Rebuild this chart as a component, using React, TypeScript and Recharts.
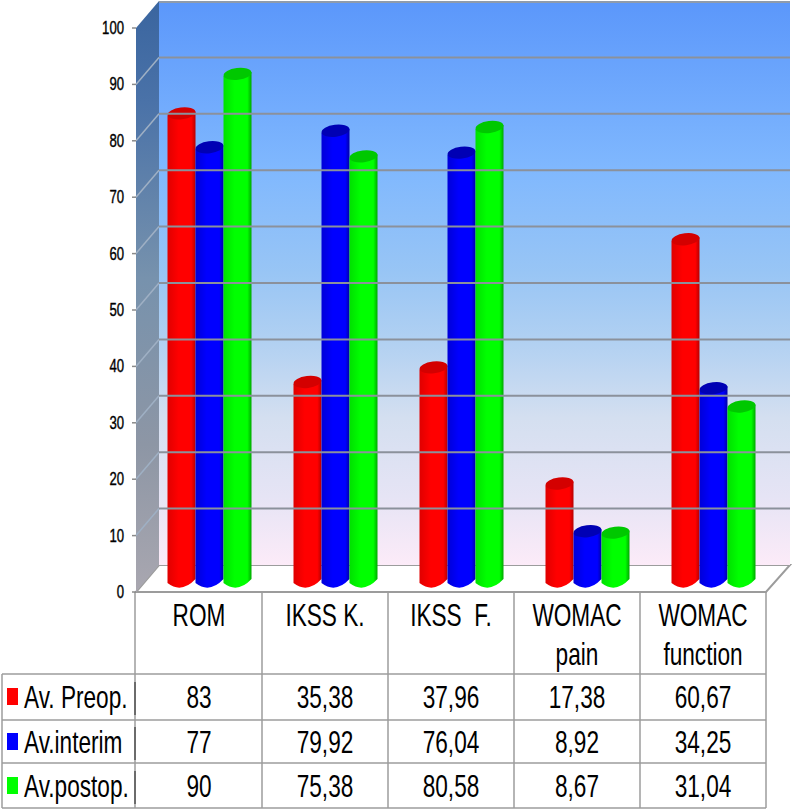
import React from "react";
import { BarChart, Bar, XAxis, YAxis, ReferenceArea, ReferenceLine } from "recharts";

const categories = ["ROM", "IKSS K.", "IKSS  F.", "WOMAC\npain", "WOMAC\nfunction"];
const preop = [83, 35.38, 37.96, 17.38, 60.67];
const interim = [77, 79.92, 76.04, 8.92, 34.25];
const postop = [90, 75.38, 80.58, 8.67, 31.04];
const seriesNames = ["Av. Preop.", "Av.interim", "Av.postop."];
const yTicks = [0, 10, 20, 30, 40, 50, 60, 70, 80, 90, 100];

const data = categories.map((name, i) => ({
  name,
  preop: preop[i],
  interim: interim[i],
  postop: postop[i],
}));

const rows = [preop, interim, postop];
const rowColors = ["#ff0000", "#0000ff", "#00ff00"];
const rowBaselines = [708, 753, 797];
const rowLines = [674, 720, 763, 808];

const DEPTH_X = 23;
const DEPTH_Y = 27;
const TEXT = "'Liberation Sans', Arial, sans-serif";
const LINE = "#9c9c9c";

function fmt(v: number) {
  return String(v).replace(".", ",");
}

// the picture's type is a narrowed Arial
function Narrow({ x, y, size = 31, anchor = "middle", heavy = 0, children }: any) {
  return (
    <text
      transform={`translate(${x},${y}) scale(0.73,1)`}
      fontFamily={TEXT}
      fontSize={size}
      textAnchor={anchor}
      fill="#000"
      stroke={heavy ? "#000" : "none"}
      strokeWidth={heavy}
    >
      {children}
    </text>
  );
}

function Wall({ x, y, width, height }: any) {
  const bottom = y + height;
  const right = x + width;
  return (
    <g>
      <polygon
        points={`${x},${bottom} ${x + DEPTH_X},${bottom - DEPTH_Y} ${right + DEPTH_X + 1},${bottom - DEPTH_Y} ${right},${bottom}`}
        fill="#fff"
        stroke={LINE}
        strokeWidth={2}
      />
      <polygon
        points={`${x},${y} ${x + DEPTH_X},${y - DEPTH_Y} ${x + DEPTH_X},${bottom - DEPTH_Y} ${x},${bottom}`}
        fill="url(#sideWall)"
      />
      <rect
        x={x + DEPTH_X}
        y={y - DEPTH_Y}
        width={width + 1}
        height={height}
        fill="url(#backWall)"
      />
      <line
        x1={x + DEPTH_X}
        y1={y - DEPTH_Y + 1}
        x2={right + DEPTH_X + 1}
        y2={y - DEPTH_Y + 1}
        stroke="#8f9bab"
        strokeWidth={2}
      />
    </g>
  );
}

function GridLine({ x1, y1, x2, y2 }: any) {
  return (
    <g fill="none">
      <line x1={x1} y1={y1} x2={x1 + DEPTH_X} y2={y1 - DEPTH_Y} stroke="#9fb0c4" strokeWidth={1.5} />
      <line
        x1={x1 + DEPTH_X}
        y1={y2 - DEPTH_Y}
        x2={x2 + DEPTH_X + 1}
        y2={y2 - DEPTH_Y}
        stroke="#8b919b"
        strokeWidth={2}
      />
    </g>
  );
}

function Cylinder({ x, y, width, height, gradient, top }: any) {
  const left = x + 11;
  const w = width;
  const yTop = y - 10.5;
  const yBottom = y + height - 11;
  const ry = 6;
  const tilt = 2;
  return (
    <g>
      <path
        d={`M${left},${yTop + tilt} L${left},${yBottom + tilt}
            Q${left + w * 0.5},${yBottom + ry * 2 + 1} ${left + w},${yBottom - tilt}
            L${left + w},${yTop - tilt} Z`}
        fill={`url(#${gradient})`}
      />
      <ellipse
        cx={left + w / 2}
        cy={yTop}
        rx={w / 2}
        ry={ry}
        fill={top}
        transform={`rotate(-7 ${left + w / 2} ${yTop})`}
      />
    </g>
  );
}

function YTick({ x, y, payload }: any) {
  return (
    <g>
      <line x1={x + 4} y1={y} x2={x + 8} y2={y} stroke="#8a8a8a" strokeWidth={1.5} />
      <Narrow x={x - 4} y={y + 6} size={18} anchor="end" heavy={0.4}>
        {payload.value}
      </Narrow>
    </g>
  );
}

// category label plus its column of the data table
function CategoryTick({ x, y, payload, index }: any) {
  const lines = String(payload.value).split("\n");
  return (
    <g>
      {lines.map((line, i) => (
        <Narrow key={i} x={x} y={y + 28 + i * 39}>
          <tspan style={{ whiteSpace: "pre" }}>{line}</tspan>
        </Narrow>
      ))}
      {rows.map((row, r) => (
        <Narrow key={r} x={x} y={rowBaselines[r]}>
          {fmt(row[index])}
        </Narrow>
      ))}
      <line x1={x + 63} y1={592} x2={x + 63} y2={808} stroke={LINE} strokeWidth={1.5} />
    </g>
  );
}

function RowLabels() {
  return (
    <g>
      <line x1={135} y1={592} x2={135} y2={808} stroke={LINE} strokeWidth={1.5} />
      {rowLines.map((y) => (
        <line key={y} x1={2} y1={y} x2={766} y2={y} stroke={LINE} strokeWidth={1.5} />
      ))}
      <line x1={2} y1={674} x2={2} y2={808} stroke={LINE} strokeWidth={1.5} />
      {seriesNames.map((name, i) => (
        <g key={name}>
          <rect x={7} y={rowBaselines[i] - 20} width={11} height={17} fill={rowColors[i]} />
          <Narrow x={24} y={rowBaselines[i]} anchor="start">
            {name}
          </Narrow>
          <line
            x1={135}
            y1={rowBaselines[i] - 26}
            x2={135}
            y2={rowBaselines[i] + 7}
            stroke="#222"
            strokeWidth={1}
          />
        </g>
      ))}
    </g>
  );
}

function Gradients() {
  return (
    <defs>
      <linearGradient id="backWall" x1="0" y1="0" x2="0" y2="1">
        <stop offset="0" stopColor="#5b97fb" />
        <stop offset="0.3" stopColor="#80b8fe" />
        <stop offset="0.48" stopColor="#98c5f5" />
        <stop offset="0.6" stopColor="#b0d0f2" />
        <stop offset="0.74" stopColor="#d4dff0" />
        <stop offset="0.88" stopColor="#e6e4f5" />
        <stop offset="1" stopColor="#fcebf8" />
      </linearGradient>
      <linearGradient id="sideWall" x1="0" y1="0" x2="0" y2="1">
        <stop offset="0" stopColor="#3a659f" />
        <stop offset="0.17" stopColor="#4a72a8" />
        <stop offset="0.47" stopColor="#7792ad" />
        <stop offset="0.75" stopColor="#8d96a5" />
        <stop offset="1" stopColor="#a9a7b0" />
      </linearGradient>
      <linearGradient id="cylRed" x1="0" y1="0" x2="1" y2="0">
        <stop offset="0" stopColor="#e00000" />
        <stop offset="0.4" stopColor="#ff0000" />
        <stop offset="0.85" stopColor="#ff0000" />
        <stop offset="1" stopColor="#b80000" />
      </linearGradient>
      <linearGradient id="cylBlue" x1="0" y1="0" x2="1" y2="0">
        <stop offset="0" stopColor="#0000d8" />
        <stop offset="0.4" stopColor="#0000ff" />
        <stop offset="0.85" stopColor="#0000ff" />
        <stop offset="1" stopColor="#0000a8" />
      </linearGradient>
      <linearGradient id="cylGreen" x1="0" y1="0" x2="1" y2="0">
        <stop offset="0" stopColor="#00e000" />
        <stop offset="0.4" stopColor="#00ff00" />
        <stop offset="0.85" stopColor="#00ff00" />
        <stop offset="1" stopColor="#00a800" />
      </linearGradient>
    </defs>
  );
}

export default function App() {
  return (
    <div style={{ position: "absolute", left: 0, top: 0, width: 792, height: 810, background: "#fff" }}>
      <BarChart
        width={792}
        height={810}
        data={data}
        margin={{ top: 28, right: 26, left: 0, bottom: 0 }}
        barCategoryGap={20.5}
        barGap={0}
        style={{ overflow: "visible" }}
      >
        <Gradients />
        <XAxis
          dataKey="name"
          height={218}
          interval={0}
          axisLine={false}
          tickLine={false}
          tick={<CategoryTick />}
          tickMargin={0}
        />
        <YAxis
          width={136}
          domain={[0, 100]}
          ticks={yTicks}
          interval={0}
          axisLine={false}
          tickLine={false}
          tick={<YTick />}
        />
        <ReferenceArea y1={0} y2={100} shape={<Wall />} />
        {yTicks.slice(1, -1).map((v) => (
          <ReferenceLine key={v} y={v} shape={<GridLine />} />
        ))}
        <RowLabels />
        <Bar dataKey="preop" isAnimationActive={false} shape={<Cylinder gradient="cylRed" top="#d40000" />} />
        <Bar dataKey="interim" isAnimationActive={false} shape={<Cylinder gradient="cylBlue" top="#0000b4" />} />
        <Bar dataKey="postop" isAnimationActive={false} shape={<Cylinder gradient="cylGreen" top="#00c800" />} />
      </BarChart>
    </div>
  );
}
